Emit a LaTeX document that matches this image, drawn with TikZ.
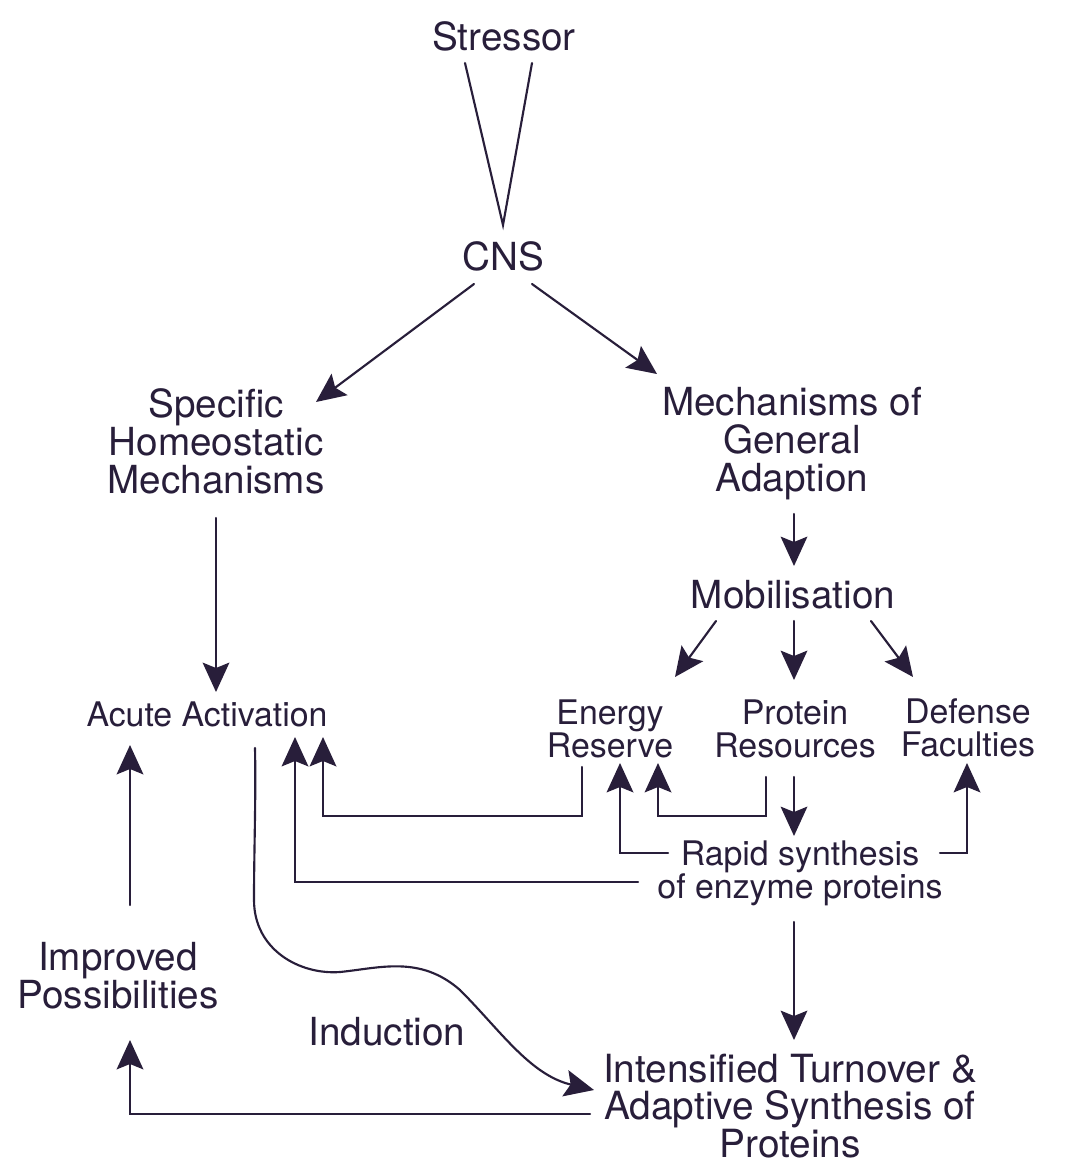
\documentclass[tikz,border=0pt]{standalone}
\usepackage{fontspec}
\setmainfont{TeX Gyre Heros}
\usetikzlibrary{arrows.meta}
\definecolor{ink}{RGB}{40,30,58}
\tikzset{
  big/.style={inner sep=0pt, align=center, text=ink, font=\fontsize{29pt}{28.5pt}\selectfont},
  small/.style={inner sep=0pt, align=center, text=ink, font=\fontsize{25.4pt}{24.75pt}\selectfont},
  mid/.style={inner sep=0pt, align=center, text=ink, font=\fontsize{29.1pt}{28.1pt}\selectfont},
  ln/.style={draw=ink, line width=1.6pt, line cap=round, line join=miter},
  arr/.style={ln, -{Stealth[length=22pt, width=20pt, inset=4pt]}},
}
\begin{document}
\begin{tikzpicture}[x=0.75pt, y=-0.75pt]
\useasboundingbox (0,0) rectangle (1078,1175);
\fill[white] (0,0) rectangle (1078,1175);

% nodes
\node[big] (stressor) at (504,36) {Stressor};
\node[big] (cns) at (503,256) {CNS};
\node[big] (spec) at (216,441) {Specific\\Homeostatic\\Mechanisms};
\node[big] (mech) at (792,444) {Mechanisms of\\General\\Adaption};
\node[big] (mob) at (793,595) {Mobilisation};
\node[small] (acute) at (207,714) {Acute Activation};
\node[small] (energy) at (610,729) {Energy\\Reserve};
\node[small] (protein) at (795,729) {Protein\\Resources};
\node[small] (defense) at (968,728) {Defense\\Faculties};
\node[small] (rapid) at (800,873) {Rapid synthesis\\of enzyme proteins};
\node[big] (improved) at (118,976) {Improved\\Possibilities};
\node[big] (induction) at (387,1032) {Induction};
\node[mid] (intens) at (790,1106) {Intensified Turnover \&\\Adaptive Synthesis of\\Proteins};

% coordinates
\coordinate (vl) at (465,63);
\coordinate (vr) at (532,63);
\coordinate (vapex) at (503,225);
\coordinate (cnsL) at (474,284);
\coordinate (cnsR) at (532,284);
\coordinate (specT) at (316,402);
\coordinate (mechT) at (657,374);
\coordinate (specB) at (216,518);
\coordinate (acuteT) at (216,692);
\coordinate (mechB) at (794,514);
\coordinate (mobT) at (794,566);
\coordinate (mobL) at (716,621);
\coordinate (mobM) at (794,621);
\coordinate (mobR) at (871,621);
\coordinate (enT) at (675,677);
\coordinate (prT) at (794,680);
\coordinate (deT) at (913,677);
\coordinate (enB) at (582,767);
\coordinate (enL) at (582,816);
\coordinate (acA) at (323,737);
\coordinate (acB) at (295,737);
\coordinate (enU) at (620,763);
\coordinate (enV) at (658,763);
\coordinate (prB) at (766,777);
\coordinate (prD) at (794,777);
\coordinate (raT) at (794,836);
\coordinate (raL1) at (668,853);
\coordinate (raR1) at (940,853);
\coordinate (deU) at (967,763);
\coordinate (raL2) at (638,882);
\coordinate (raB) at (794,922);
\coordinate (inT) at (794,1040);
\coordinate (inL) at (590,1114);
\coordinate (imB) at (130,1040);
\coordinate (imT) at (130,905);
\coordinate (acL) at (130,745);
\coordinate (acC) at (255,748);
\coordinate (inA) at (594,1090);

% connectors
\draw[ln] (vl) -- (vapex) -- (vr);
\draw[arr] (cnsL) -- (specT);
\draw[arr] (cnsR) -- (mechT);
\draw[arr] (specB) -- (acuteT);
\draw[arr] (mechB) -- (mobT);
\draw[arr] (mobL) -- (enT);
\draw[arr] (mobM) -- (prT);
\draw[arr] (mobR) -- (deT);
\draw[arr] (enB) |- (acA |- enL) -- (acA);
\draw[arr] (prB) |- (enV |- enL) -- (enV);
\draw[arr] (prD) -- (raT);
\draw[arr] (raL1) -| (enU);
\draw[arr] (raR1) -| (deU);
\draw[arr] (raL2) -| (acB);
\draw[arr] (raB) -- (inT);
\draw[arr] (inL) -| (imB);
\draw[arr] (imT) -- (acL);
\draw[arr] (acC) .. controls (256,800) and (254,850) .. (254,900)
  .. controls (254,950) and (300,975) .. (340,972)
  .. controls (380,968) and (420,955) .. (460,990)
  .. controls (500,1030) and (530,1075) .. (inA);
\end{tikzpicture}
\end{document}
